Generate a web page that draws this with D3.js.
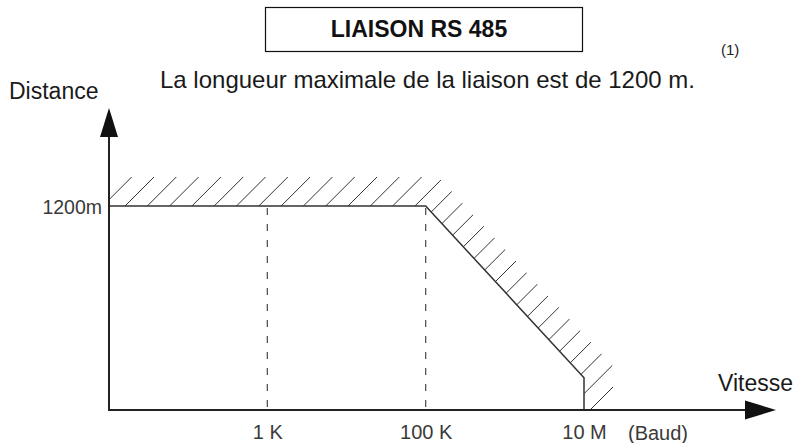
<!DOCTYPE html>
<html>
<head>
<meta charset="utf-8">
<script src="https://cdn.jsdelivr.net/npm/d3@7"></script>
<style>
  html, body { margin: 0; padding: 0; background: #fff; }
  svg { display: block; font-family: "Liberation Sans", Arial, Helvetica, sans-serif; }
</style>
</head>
<body>
<script>
// ---- data ----
const speeds = [10, 1e5, 1e7, 1e7];          // Baud (boundary of max distance curve)
const distances = [1200, 1200, 190, 0];      // metres
const xTickValues = [1e3, 1e5, 1e7];
const xTickLabels = ["1 K", "100 K", "10 M"];
const yTickValues = [1200];
const yTickLabels = ["1200m"];
const titleText = "LIAISON RS 485";
const subtitleText = "La longueur maximale de la liaison est de 1200 m.";
const noteText = "(1)";
const yAxisTitle = "Distance";
const xAxisTitle = "Vitesse";
const unitText = "(Baud)";

// ---- layout ----
const W = 798, H = 443;
const svg = d3.select("body").append("svg").attr("width", W).attr("height", H);
svg.append("rect").attr("width", W).attr("height", H).attr("fill", "#fff");

const x = d3.scaleLog().domain([10, 1e7]).range([109, 584]);
const y = d3.scaleLinear().domain([0, 1200]).range([410, 206]);
const x0 = x(10), y0 = y(0);
const xArrowTip = 776, yArrowTip = 108;

// ---- hatched band above the boundary ----
const pts = speeds.map((s, i) => [x(s), y(distances[i])]);
const d = 29;
function offsetLine(p, q) {
  const dx = q[0] - p[0], dy = q[1] - p[1];
  const L = Math.hypot(dx, dy);
  let nx = dy / L, ny = -dx / L;
  if (nx < 0 || (nx === 0 && ny > 0)) { nx = -nx; ny = -ny; }
  return [[p[0] + nx * d, p[1] + ny * d], [q[0] + nx * d, q[1] + ny * d]];
}
function intersect(a, b) {
  const [p1, p2] = a, [p3, p4] = b;
  const den = (p1[0]-p2[0])*(p3[1]-p4[1]) - (p1[1]-p2[1])*(p3[0]-p4[0]);
  const t = ((p1[0]-p3[0])*(p3[1]-p4[1]) - (p1[1]-p3[1])*(p3[0]-p4[0])) / den;
  return [p1[0] + t*(p2[0]-p1[0]), p1[1] + t*(p2[1]-p1[1])];
}
const segs = [];
for (let i = 0; i < pts.length - 1; i++) segs.push(offsetLine(pts[i], pts[i+1]));
const outer = [[x0, segs[0][0][1]]];
for (let i = 0; i < segs.length - 1; i++) outer.push(intersect(segs[i], segs[i+1]));
outer.push([segs[segs.length-1][1][0], y0]);
const band = pts.concat(outer.slice().reverse());

const defs = svg.append("defs");
defs.append("clipPath").attr("id", "bandClip")
  .append("path").attr("d", "M" + band.map(p => p.join(",")).join("L") + "Z");

const hatchG = svg.append("g").attr("clip-path", "url(#bandClip)");
const pitch = 22.3, phase = 331;
const cs = [];
for (let c = phase - pitch * 20; c < 1400; c += pitch) cs.push(c);
hatchG.selectAll("line").data(cs).enter().append("line")
  .attr("x1", c => c - 420).attr("y1", 420)
  .attr("x2", c => c - 150).attr("y2", 150)
  .attr("stroke", "#333").attr("stroke-width", 1);

// ---- dashed guides ----
svg.append("g").selectAll("line").data(xTickValues.slice(0, 2)).enter().append("line")
  .attr("x1", v => x(v)).attr("x2", v => x(v))
  .attr("y1", y(1200) + 2).attr("y2", y0)
  .attr("stroke", "#555").attr("stroke-width", 1.3)
  .attr("stroke-dasharray", "7,9");

// ---- boundary curve ----
const line = d3.line().x((s, i) => x(s)).y((s, i) => y(distances[i]));
svg.append("path").datum(speeds).attr("d", line)
  .attr("fill", "none").attr("stroke", "#333").attr("stroke-width", 1.5);

// ---- axes ----
svg.append("line").attr("x1", x0).attr("y1", y0).attr("x2", xArrowTip - 30).attr("y2", y0)
  .attr("stroke", "#222").attr("stroke-width", 2);
svg.append("path").attr("d", `M${xArrowTip - 31},${y0 - 9.5}L${xArrowTip},${y0}L${xArrowTip - 31},${y0 + 9.5}Z`)
  .attr("fill", "#111");
svg.append("line").attr("x1", x0).attr("y1", y0 + 1).attr("x2", x0).attr("y2", yArrowTip + 28)
  .attr("stroke", "#222").attr("stroke-width", 2);
svg.append("path").attr("d", `M${x0 - 9},${yArrowTip + 29}L${x0},${yArrowTip}L${x0 + 9},${yArrowTip + 29}Z`)
  .attr("fill", "#111");

const xAxis = d3.axisBottom(x).tickValues(xTickValues)
  .tickFormat((v, i) => xTickLabels[i]).tickSize(0).tickPadding(15);
const gx = svg.append("g").attr("transform", `translate(0,${y0})`).call(xAxis);
gx.select(".domain").remove();
gx.selectAll("text").attr("font-size", 20).attr("fill", "#3a3a3a")
  .attr("font-family", "'Liberation Sans', Arial, sans-serif");

const yAxis = d3.axisLeft(y).tickValues(yTickValues)
  .tickFormat((v, i) => yTickLabels[i]).tickSize(0).tickPadding(7);
const gy = svg.append("g").attr("transform", `translate(${x0},0)`).call(yAxis);
gy.select(".domain").remove();
gy.selectAll("text").attr("font-size", 19.5).attr("fill", "#3a3a3a").attr("dy", "0.4em")
  .attr("font-family", "'Liberation Sans', Arial, sans-serif");

// ---- texts ----
svg.append("rect").attr("x", 265.5).attr("y", 7.5).attr("width", 317).attr("height", 44)
  .attr("fill", "none").attr("stroke", "#111").attr("stroke-width", 1.2);
svg.append("text").attr("x", 419).attr("y", 37).attr("text-anchor", "middle")
  .attr("font-size", 23).attr("font-weight", "bold").attr("fill", "#111").text(titleText);
svg.append("text").attr("x", 721).attr("y", 55)
  .attr("font-size", 15).attr("fill", "#222").text(noteText);
svg.append("text").attr("x", 160).attr("y", 88)
  .attr("font-size", 24).attr("fill", "#1a1a1a").text(subtitleText);
svg.append("text").attr("x", 9).attr("y", 99)
  .attr("font-size", 23).attr("fill", "#1a1a1a").text(yAxisTitle);
svg.append("text").attr("x", 718).attr("y", 391)
  .attr("font-size", 23).attr("fill", "#1a1a1a").text(xAxisTitle);
svg.append("text").attr("x", 628).attr("y", 439.5)
  .attr("font-size", 20).attr("fill", "#3a3a3a").text(unitText);
</script>
</body>
</html>
